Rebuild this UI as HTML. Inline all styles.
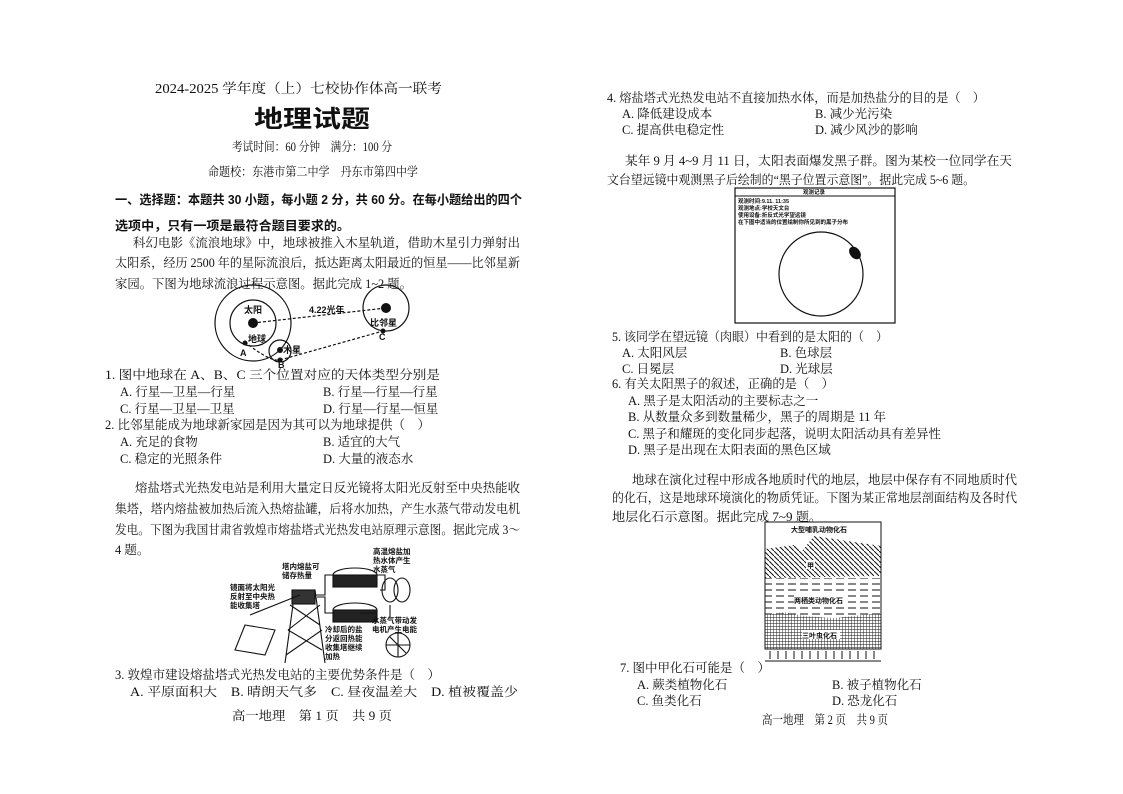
<!DOCTYPE html>
<html><head><meta charset="utf-8"><style>
body{margin:0;background:#fff;}
#p{position:relative;width:1123px;height:794px;overflow:hidden;background:#fff;}
svg{position:absolute;left:0;top:0;}
.s{font-family:"Liberation Serif","Noto Serif CJK SC",serif;font-size:12.5px;fill:#111;}
.b{font-family:"Liberation Sans","Noto Sans CJK SC",sans-serif;font-weight:bold;}
</style></head><body><div id="p">
<svg width="1123" height="794" viewBox="0 0 1123 794" class="s">
<text x="155" y="93" textLength="287" lengthAdjust="spacingAndGlyphs" font-size="13.5">2024-2025 学年度（上）七校协作体高一联考</text>
<text x="254" y="127" textLength="116" lengthAdjust="spacingAndGlyphs" font-size="24" class="b">地理试题</text>
<text x="232" y="151" textLength="160" lengthAdjust="spacingAndGlyphs">考试时间：60 分钟　满分：100 分</text>
<text x="208" y="176" textLength="210" lengthAdjust="spacingAndGlyphs">命题校：东港市第二中学　丹东市第四中学</text>
<text x="115" y="204" textLength="407" lengthAdjust="spacingAndGlyphs" class="b">一、选择题：本题共 30 小题，每小题 2 分，共 60 分。在每小题给出的四个</text>
<text x="115" y="230" textLength="235" lengthAdjust="spacingAndGlyphs" class="b">选项中，只有一项是最符合题目要求的。</text>
<text x="133" y="247" textLength="387" lengthAdjust="spacingAndGlyphs">科幻电影《流浪地球》中，地球被推入木星轨道，借助木星引力弹射出</text>
<text x="115" y="267" textLength="405" lengthAdjust="spacingAndGlyphs">太阳系，经历 2500 年的星际流浪后，抵达距离太阳最近的恒星——比邻星新</text>
<text x="115" y="288" textLength="297" lengthAdjust="spacingAndGlyphs">家园。下图为地球流浪过程示意图。据此完成 1~2 题。</text>
<text x="105" y="379" textLength="335" lengthAdjust="spacingAndGlyphs">1. 图中地球在 A、B、C 三个位置对应的天体类型分别是</text>
<text x="120" y="396">A. 行星—卫星—行星</text><text x="323" y="396">B. 行星—行星—行星</text>
<text x="120" y="413">C. 行星—卫星—卫星</text><text x="323" y="413">D. 行星—行星—恒星</text>
<text x="105" y="429" textLength="325" lengthAdjust="spacingAndGlyphs">2. 比邻星能成为地球新家园是因为其可以为地球提供（　）</text>
<text x="120" y="446">A. 充足的食物</text><text x="323" y="446">B. 适宜的大气</text>
<text x="120" y="463">C. 稳定的光照条件</text><text x="323" y="463">D. 大量的液态水</text>
<text x="135" y="492" textLength="385" lengthAdjust="spacingAndGlyphs">熔盐塔式光热发电站是利用大量定日反光镜将太阳光反射至中央热能收</text>
<text x="115" y="513" textLength="405" lengthAdjust="spacingAndGlyphs">集塔，塔内熔盐被加热后流入热熔盐罐，后将水加热，产生水蒸气带动发电机</text>
<text x="115" y="534" textLength="405" lengthAdjust="spacingAndGlyphs">发电。下图为我国甘肃省敦煌市熔盐塔式光热发电站原理示意图。据此完成 3～</text>
<text x="115" y="554">4 题。</text>
<text x="115" y="679" textLength="325" lengthAdjust="spacingAndGlyphs">3. 敦煌市建设熔盐塔式光热发电站的主要优势条件是（　）</text>
<text x="130" y="696" textLength="388" lengthAdjust="spacingAndGlyphs">A. 平原面积大　B. 晴朗天气多　C. 昼夜温差大　D. 植被覆盖少</text>
<text x="232" y="720" textLength="160" lengthAdjust="spacingAndGlyphs">高一地理　第 1 页　共 9 页</text>

<text x="607" y="102" textLength="378" lengthAdjust="spacingAndGlyphs">4. 熔盐塔式光热发电站不直接加热水体，而是加热盐分的目的是（　）</text>
<text x="622" y="118">A. 降低建设成本</text><text x="815" y="118">B. 减少光污染</text>
<text x="622" y="134">C. 提高供电稳定性</text><text x="815" y="134">D. 减少风沙的影响</text>
<text x="625" y="165" textLength="387" lengthAdjust="spacingAndGlyphs">某年 9 月 4~9 月 11 日，太阳表面爆发黑子群。图为某校一位同学在天</text>
<text x="607" y="184" textLength="368" lengthAdjust="spacingAndGlyphs">文台望远镜中观测黑子后绘制的“黑子位置示意图”。据此完成 5~6 题。</text>
<text x="612" y="341" textLength="276" lengthAdjust="spacingAndGlyphs">5. 该同学在望远镜（肉眼）中看到的是太阳的（　）</text>
<text x="622" y="357">A. 太阳风层</text><text x="780" y="357">B. 色球层</text>
<text x="622" y="373">C. 日冕层</text><text x="780" y="373">D. 光球层</text>
<text x="612" y="388" textLength="222" lengthAdjust="spacingAndGlyphs">6. 有关太阳黑子的叙述，正确的是（　）</text>
<text x="628" y="405">A. 黑子是太阳活动的主要标志之一</text>
<text x="628" y="421" textLength="258" lengthAdjust="spacingAndGlyphs">B. 从数量众多到数量稀少，黑子的周期是 11 年</text>
<text x="628" y="438" textLength="313" lengthAdjust="spacingAndGlyphs">C. 黑子和耀斑的变化同步起落，说明太阳活动具有差异性</text>
<text x="628" y="454">D. 黑子是出现在太阳表面的黑色区域</text>
<text x="632" y="484" textLength="385" lengthAdjust="spacingAndGlyphs">地球在演化过程中形成各地质时代的地层，地层中保存有不同地质时代</text>
<text x="612" y="502" textLength="405" lengthAdjust="spacingAndGlyphs">的化石，这是地球环境演化的物质凭证。下图为某正常地层剖面结构及各时代</text>
<text x="612" y="521" textLength="210" lengthAdjust="spacingAndGlyphs">地层化石示意图。据此完成 7~9 题。</text>
<text x="620" y="672">7. 图中甲化石可能是（　）</text>
<text x="637" y="689">A. 蕨类植物化石</text><text x="832" y="689">B. 被子植物化石</text>
<text x="637" y="705">C. 鱼类化石</text><text x="832" y="705">D. 恐龙化石</text>
<text x="762" y="724" textLength="126" lengthAdjust="spacingAndGlyphs">高一地理　第 2 页　共 9 页</text>

<g transform="translate(200,280)">
<g fill="none" stroke="#111" stroke-width="1.2"><circle cx="53" cy="43" r="38"/><circle cx="53" cy="43" r="23"/><circle cx="80" cy="71" r="11"/><circle cx="186" cy="28" r="23"/>
<path d="M53 43 L186 28 M45 62 Q70 82 80 80 M80 80 L183 51" stroke-dasharray="3,2"/></g>
<g fill="#111"><circle cx="53" cy="43" r="5"/><circle cx="186" cy="28" r="5"/><circle cx="80" cy="70" r="3"/><circle cx="45" cy="63" r="2.5"/><circle cx="80" cy="80" r="2.5"/><circle cx="183" cy="51" r="2.5"/></g>
<g font-size="9" class="b" font-weight="normal"><text x="44" y="33">太阳</text><text x="48" y="62">地球</text><text x="83" y="73">木星</text><text x="170" y="46">比邻星</text><text x="109" y="33">4.22光年</text><text x="40" y="76">A</text><text x="78" y="88">B</text><text x="179" y="60">C</text></g></g>

<g transform="translate(220,545)">
<g fill="none" stroke="#111" stroke-width="1.1"><path d="M75 45 L65 118 M95 45 L105 118 M70 60 L100 80 M100 60 L68 85 M68 85 L102 105 M102 85 L66 110"/><rect x="72" y="45" width="23" height="14" fill="#333"/><ellipse cx="135" cy="30" rx="22" ry="7"/><ellipse cx="135" cy="65" rx="22" ry="7"/><rect x="113" y="30" width="44" height="12" fill="#222"/><rect x="113" y="65" width="44" height="12" fill="#222"/><path d="M96 50 L105 50 L105 30 L113 30 M157 30 L165 30 L165 45 L160 45 M157 68 L140 68 M113 68 L105 68 L105 52 L97 52"/><ellipse cx="170" cy="45" rx="8" ry="12"/><ellipse cx="182" cy="45" rx="8" ry="12"/><path d="M170 60 L170 72"/><circle cx="178" cy="100" r="12"/><path d="M166 100 L190 100 M178 88 L178 112 M170 92 L186 108"/><path d="M30 70 L80 50"/><path d="M25 80 L55 85 L45 110 L15 105 Z"/></g>
<g font-size="7.5" class="b"><text x="62" y="24">塔内熔盐可</text><text x="62" y="33">储存热量</text><text x="153" y="9">高温熔盐加</text><text x="153" y="18">热水体产生</text><text x="153" y="27">水蒸气</text><text x="10" y="45">镜面将太阳光</text><text x="10" y="54">反射至中央热</text><text x="10" y="63">能收集塔</text><text x="105" y="87">冷却后的盐</text><text x="105" y="96">分返回热能</text><text x="105" y="105">收集塔继续</text><text x="105" y="114">加热</text><text x="152" y="78">水蒸气带动发</text><text x="152" y="87">电机产生电能</text></g></g>

<g transform="translate(733,186)">
<rect x="2" y="2" width="160" height="135" fill="none" stroke="#111" stroke-width="1.2"/><line x1="2" y1="10" x2="162" y2="10" stroke="#111"/>
<g font-size="5.5" class="b" font-weight="normal"><text x="70" y="8">观测记录</text><text x="5" y="17">观测时间:9.11. 11:35</text><text x="5" y="24">观测地点:学校天文台</text><text x="5" y="31">使用设备:折反式光学望远镜</text><text x="5" y="38">在下图中适当的位置绘制你所见到的黑子分布</text></g>
<circle cx="88" cy="88" r="42" fill="none" stroke="#111" stroke-width="1.2"/><ellipse cx="122" cy="67" rx="5" ry="7" transform="rotate(-40 122 67)" fill="#111"/></g>

<defs><pattern id="d" width="5" height="5" patternUnits="userSpaceOnUse"><path d="M0 0 L5 5" stroke="#111" stroke-width="1"/></pattern>
<pattern id="g" width="3" height="3" patternUnits="userSpaceOnUse"><path d="M0 0 H3 M0 0 V3" stroke="#111" stroke-width="0.9"/></pattern>
<pattern id="h" width="12" height="6" patternUnits="userSpaceOnUse"><path d="M0 3 H8" stroke="#111"/></pattern></defs>
<g transform="translate(764,521)">
<rect x="1" y="1" width="116" height="127" fill="none" stroke="#111"/>
<path d="M1 28 L30 24 L38 30 L50 15 L117 25 L117 55 L1 57 Z" fill="url(#d)"/>
<rect x="1" y="57" width="116" height="40" fill="url(#h)"/>
<path d="M1 94 L20 91 L40 95 L70 97 L117 92 L117 128 L1 128 Z" fill="url(#g)"/>
<path d="M1 128 H117 M1 140 H117" stroke="#111"/>
<path stroke="#111" d="M6 130V138M14 130V138M22 130V138M30 130V138M38 130V138M46 130V138M54 130V138M62 130V138M70 130V138M78 130V138M86 130V138M94 130V138M102 130V138M110 130V138"/>
<g font-size="7" class="b"><text x="27" y="11">大型哺乳动物化石</text><rect x="42" y="39" width="9" height="9" fill="#fff"/><text x="43" y="47">甲</text><rect x="30" y="74" width="52" height="9" fill="#fff"/><text x="30" y="82">两栖类动物化石</text><rect x="38" y="109" width="38" height="9" fill="#fff"/><text x="38" y="117">三叶虫化石</text></g></g>
</svg>
</div></body></html>
